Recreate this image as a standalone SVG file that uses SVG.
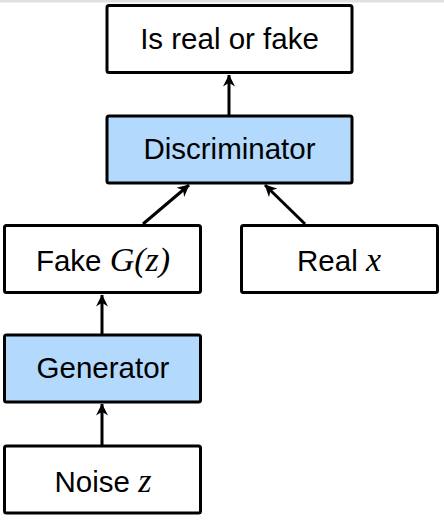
<svg xmlns="http://www.w3.org/2000/svg" width="444" height="520" viewBox="0 0 444 520">
<style>
.box{stroke:#000;stroke-width:3;fill:#fff}
.blue{fill:#b3d9fd}
.t{font-family:"Liberation Sans",Arial,sans-serif;font-size:29.5px;fill:#000;text-anchor:middle}
.m{font-family:"Liberation Serif","Times New Roman",serif;font-style:italic;font-size:34px}
.c{stroke:#000;stroke-width:3;fill:none}
</style>
<defs>
<marker id="ah" viewBox="0 0 10 10" refX="9.5" refY="5" markerWidth="13" markerHeight="12" orient="auto" markerUnits="userSpaceOnUse">
<path d="M0,0 L10,5 L0,10 L3,5 Z" fill="#000"/>
</marker>
</defs>
<rect x="0" y="0" width="444" height="2.5" fill="#e0e0e0"/>
<g id="out">
<rect class="box" x="107" y="5.5" width="245" height="67" rx="2"/>
<text class="t" x="229.5" y="49">Is real or fake</text>
</g>
<g id="disc">
<rect class="box blue" x="107" y="116" width="245" height="67" rx="2"/>
<text class="t" x="229.5" y="159">Discriminator</text>
</g>
<g id="fake">
<rect class="box" x="4.5" y="225.5" width="196" height="67" rx="2"/>
<text class="t" x="103" y="271">Fake <tspan class="m">G</tspan><tspan class="m" font-style="normal">(</tspan><tspan class="m">z</tspan><tspan class="m" font-style="normal">)</tspan></text>
</g>
<g id="real">
<rect class="box" x="241.5" y="225.5" width="196" height="67" rx="2"/>
<text class="t" x="339" y="271">Real <tspan class="m">x</tspan></text>
</g>
<g id="gen">
<rect class="box blue" x="4.5" y="335" width="196" height="67" rx="2"/>
<text class="t" x="103" y="378">Generator</text>
</g>
<g id="noise">
<rect class="box" x="4.5" y="446" width="196" height="67" rx="2"/>
<text class="t" x="103" y="492">Noise <tspan class="m">z</tspan></text>
</g>
<g id="connectors">
<line class="c" x1="229" y1="115" x2="229" y2="75" marker-end="url(#ah)"/>
<line class="c" x1="143" y1="224" x2="189" y2="185" marker-end="url(#ah)"/>
<line class="c" x1="305" y1="224" x2="265" y2="185" marker-end="url(#ah)"/>
<line class="c" x1="102" y1="334" x2="102" y2="295" marker-end="url(#ah)"/>
<line class="c" x1="102" y1="445" x2="102" y2="404" marker-end="url(#ah)"/>
</g>
</svg>
